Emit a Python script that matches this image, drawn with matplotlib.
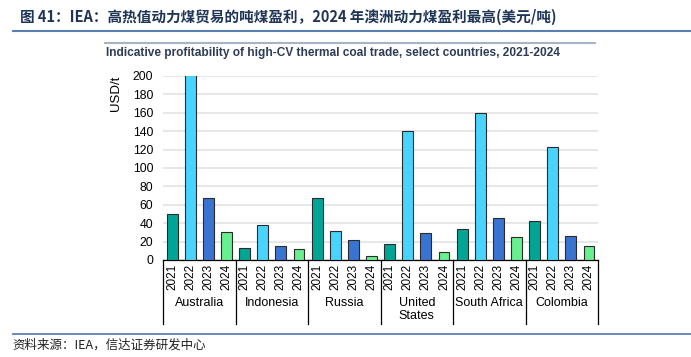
import matplotlib
matplotlib.use("Agg")
import matplotlib.pyplot as plt
import numpy as np

plt.rcParams["font.family"] = ["Liberation Sans", "Noto Sans CJK SC", "DejaVu Sans"]

countries = ["Australia", "Indonesia", "Russia", "United\nStates", "South Africa", "Colombia"]
years = ["2021", "2022", "2023", "2024"]
v2021 = [50, 13, 67, 17, 34, 42]
v2022 = [205, 38, 32, 140, 160, 123]
v2023 = [67, 15, 22, 29, 46, 26]
v2024 = [30, 12, 4, 9, 25, 15]
yticks = [0, 20, 40, 60, 80, 100, 120, 140, 160, 180, 200]

colors = ["#00A595", "#49D3FF", "#3A74D2", "#66F08E"]
series = [v2021, v2022, v2023, v2024]

W, H = 691, 357
fig = plt.figure(figsize=(W / 100, H / 100), dpi=100)

# plot area in pixel terms: x 163..598, y 76..260
ax = fig.add_axes([163 / W, 1 - 260 / H, (598 - 163) / W, (260 - 76) / H])
ph = 260 - 76

n = len(countries)
for j, vals in enumerate(series):
    x = np.arange(n) * 4 + j
    ax.bar(x, vals, width=0.6, color=colors[j], edgecolor="#2b2b2b", linewidth=0.8, zorder=3)

ax.set_ylim(0, 200)
ax.set_xlim(-0.5, n * 4 - 0.5)
ax.set_yticks(yticks)
ax.yaxis.grid(True, color="#e3e3e3", linewidth=1.2, zorder=0)
ax.set_axisbelow(True)
for s in ["left", "right", "top"]:
    ax.spines[s].set_visible(False)
ax.spines["bottom"].set_color("black")
ax.spines["bottom"].set_linewidth(0.9)
ax.tick_params(axis="y", length=0, labelsize=8.8, pad=7)
ax.tick_params(axis="x", length=0, labelsize=8.5, pad=3)

ax.set_xticks(np.arange(n * 4))
ax.set_xticklabels(years * n, rotation=90)

ax.text((116 - 163) / 435, 1 - (93 - 76) / ph, "USD/t", transform=ax.transAxes,
        rotation=90, ha="center", va="center", fontsize=9.5)

# category separators and country names under the year labels
trans = ax.get_xaxis_transform()
for k in range(n + 1):
    ax.plot([k * 4 - 0.5] * 2, [0, -(324 - 260) / ph], transform=trans,
            color="black", linewidth=0.9, clip_on=False)
for k, c in enumerate(countries):
    if "\n" in c:
        ax.text(k * 4 + 1.5, -(297 - 260) / ph, c, transform=trans,
                ha="center", va="top", fontsize=9, linespacing=1.15)
    else:
        ax.text(k * 4 + 1.5, -(303 - 260) / ph, c, transform=trans,
                ha="center", va="center", fontsize=9)

# header, rules and source
fig.text(20 / W, 1 - 17 / H,
         "图 41：IEA：高热值动力煤贸易的吨煤盈利，2024 年澳洲动力煤盈利最高(美元/吨)",
         ha="left", va="center", fontsize=10.5, fontweight="bold", color="#1f3556",
         family=["Noto Sans CJK SC", "DejaVu Sans"])
fig.add_artist(plt.Line2D([13 / W, 1], [1 - 31 / H] * 2, color="#5b7fb5", linewidth=1.5))
fig.add_artist(plt.Line2D([105 / W, 595 / W], [1 - 43 / H] * 2, color="#a8b4c4", linewidth=1.5))
fig.text(106 / W, 1 - 53 / H,
         "Indicative profitability of high-CV thermal coal trade, select countries, 2021-2024",
         ha="left", va="center", fontsize=8.55, fontweight="bold", color="#2e3d55")
fig.add_artist(plt.Line2D([13 / W, 1], [1 - 334 / H] * 2, color="#5b7fb5", linewidth=1.3))
fig.text(12 / W, 1 - 345 / H, "资料来源：IEA，信达证券研发中心",
         ha="left", va="center", fontsize=9, style="italic", color="#222222",
         family=["Noto Sans CJK SC", "DejaVu Sans"])

fig.savefig("out.png", dpi=100)
